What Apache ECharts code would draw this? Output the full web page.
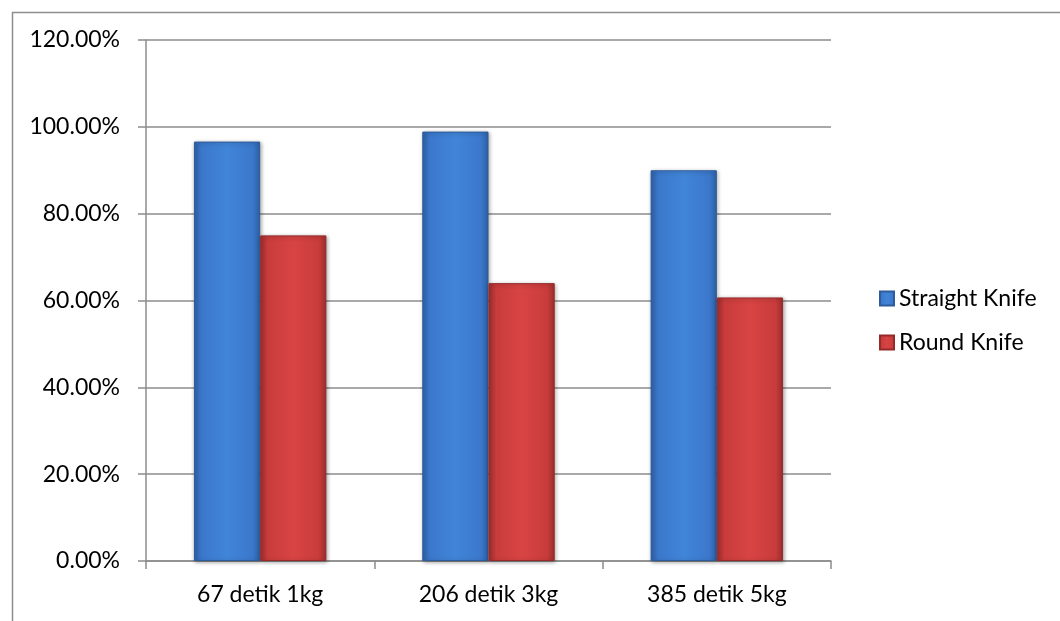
<!DOCTYPE html>
<html>
<head>
<meta charset="utf-8">
<script src="https://cdn.jsdelivr.net/npm/echarts@6/dist/echarts.min.js"></script>
<style>html,body{margin:0;padding:0;background:#fff}#c{width:1060px;height:621px}</style>
</head>
<body>
<div id="c"></div>
<script>
const categories = ['67 detik 1kg', '206 detik 3kg', '385 detik 5kg'];
const straightKnife = [96.6, 98.9, 90.0];
const roundKnife = [75.0, 64.0, 60.7];
const seriesNames = ['Straight Knife', 'Round Knife'];

function grad(dark, mid, light) {
  return new echarts.graphic.LinearGradient(0, 0, 1, 0, [
    {offset: 0, color: dark}, {offset: 0.12, color: mid}, {offset: 0.5, color: light},
    {offset: 0.88, color: mid}, {offset: 1, color: dark}
  ]);
}
const font = 'Lato, "Open Sans", sans-serif';
const chart = echarts.init(document.getElementById('c'));
chart.setOption({
  animation: false,
  graphic: [{type: 'rect', left: 10, top: 10, shape: {width: 1200, height: 800},
    style: {fill: 'none', stroke: '#8e8e8e', lineWidth: 1.5}, silent: true}],
  grid: {left: 146, right: 229, top: 40, bottom: 60, containLabel: false},
  legend: {
    orient: 'vertical', left: 874, top: 282, itemGap: 21, itemWidth: 14, itemHeight: 14,
    icon: 'rect', textStyle: {fontFamily: font, fontSize: 23, color: '#000'},
    data: seriesNames
  },
  xAxis: {
    type: 'category', data: categories,
    axisLine: {lineStyle: {color: '#8c8c8c', width: 1.5}},
    axisTick: {show: true, length: 8, lineStyle: {color: '#8c8c8c', width: 1.5}},
    axisLabel: {fontFamily: font, fontSize: 23, color: '#000', margin: 22}
  },
  yAxis: {
    type: 'value', min: 0, max: 120, interval: 20,
    axisLine: {show: true, lineStyle: {color: '#8c8c8c', width: 1.5}},
    axisTick: {show: true, length: 8, lineStyle: {color: '#8c8c8c', width: 1.5}},
    splitLine: {lineStyle: {color: '#8c8c8c', width: 1.5}},
    axisLabel: {fontFamily: font, fontSize: 23, color: '#000', margin: 26,
      formatter: v => v.toFixed(2) + '%'}
  },
  series: [
    {name: seriesNames[0], type: 'bar', data: straightKnife, barGap: '0%', barCategoryGap: '42%',
      itemStyle: {color: grad('#2f62a8', '#3b78cc', '#4185d8'), borderColor: '#2c5c9c', borderWidth: 1,
        shadowColor: 'rgba(0,0,0,0.35)', shadowBlur: 4, shadowOffsetX: 1, shadowOffsetY: 1}},
    {name: seriesNames[1], type: 'bar', data: roundKnife, barGap: '0%', barCategoryGap: '42%',
      itemStyle: {color: grad('#a12e2e', '#c93c3c', '#d84444'), borderColor: '#962a2a', borderWidth: 1,
        shadowColor: 'rgba(0,0,0,0.35)', shadowBlur: 4, shadowOffsetX: 1, shadowOffsetY: 1}}
  ]
});
</script>
</body>
</html>
